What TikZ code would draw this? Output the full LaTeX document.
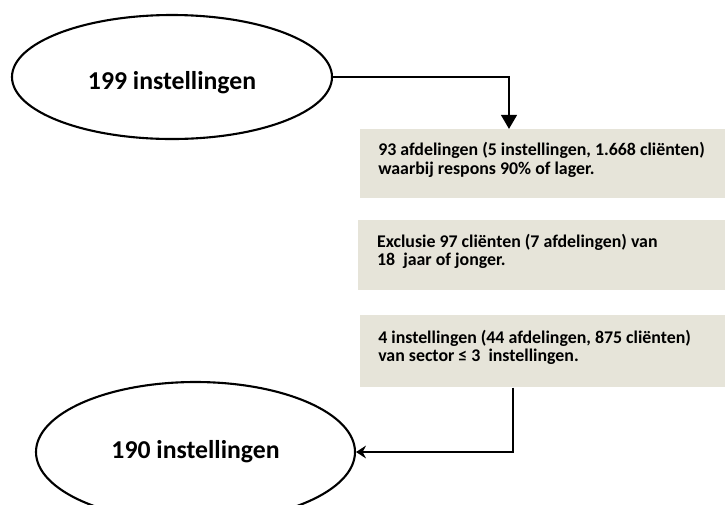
\documentclass[tikz,border=0pt]{standalone}
\usepackage{fontspec}
\setmainfont{Carlito}
\usetikzlibrary{shapes,arrows.meta,positioning}
\definecolor{stapgrijs}{RGB}{230,228,217}

\begin{document}
\begin{tikzpicture}[
    oval/.style={draw,ellipse,line width=1.5pt,font=\fontsize{18.3}{20}\selectfont\bfseries},
    stap/.style={fill=stapgrijs,anchor=north west,minimum width=9.125cm,inner sep=0pt},
    staptekst/.style={align=left,inner sep=0pt,yshift=0.1cm,font=\fontsize{12.7}{13}\selectfont\bfseries},
    pijl/.style={line width=2pt}]
\useasboundingbox (0,0) rectangle (18.125,-12.6);

\node[oval,minimum width=8cm,minimum height=3.1cm,text height=0.7cm,text depth=0.1cm] (E1) at (4.3,-1.925) {199 instellingen};

\node[stap,minimum height=1.725cm] (B1) at (9,-3.225) {};
\node[staptekst,right=0.45cm of B1.west] (T1) {93 afdelingen (5 instellingen, 1.668 cliënten)\\waarbij respons 90\% of lager.};

\node[stap,minimum height=1.75cm,minimum width=9.175cm] (B2) at (8.95,-5.5) {};
\node[staptekst,right=0.47cm of B2.west] (T2) {Exclusie 97 cliënten (7 afdelingen) van\\18\ \ jaar of jonger.};

\node[stap,minimum height=1.8cm] (B3) at (9,-7.875) {};
\node[staptekst,right=0.45cm of B3.west] (T3) {4 instellingen (44 afdelingen, 875 cliënten)\\van sector ≤ 3\ \ instellingen.};

\node[oval,minimum width=7.975cm,minimum height=3.5cm] (E2) at (4.8875,-11.3) {190 instellingen};

\draw[pijl,-{Triangle[length=10pt,width=11pt]}] (E1.east) -| ([xshift=3.725cm]B1.north west);
\draw[pijl,-{Stealth[length=7pt,width=9pt]}] ([xshift=3.825cm]B3.south west) |- (E2.east);
\end{tikzpicture}
\end{document}
